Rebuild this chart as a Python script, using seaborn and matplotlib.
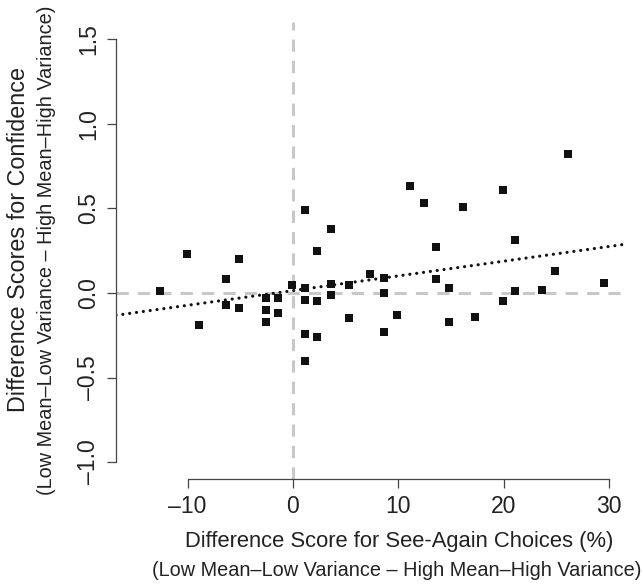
import numpy as np
import pandas as pd
import matplotlib
matplotlib.use("Agg")
import matplotlib.pyplot as plt
import seaborn as sns

# Values
see_again = [-12.6, -10.1, -8.9, -6.4, -6.4, -5.1, -5.1, -2.6, -2.6, -2.6,
             -1.4, -1.4, -0.1, 1.1, 1.1, 1.1, 1.1, 1.1, 2.3, 2.3, 2.3,
             3.6, 3.6, 3.6, 5.3, 5.3, 7.3, 8.6, 8.6, 8.6, 9.9, 11.1, 12.4,
             13.6, 13.6, 14.8, 14.8, 16.1, 17.3, 19.9, 19.9, 21.1, 21.1,
             23.6, 24.9, 26.1, 29.5]
confidence = [0.01, 0.23, -0.19, 0.08, -0.07, 0.20, -0.09, -0.03, -0.10, -0.17,
              -0.03, -0.12, 0.045, 0.49, 0.03, -0.04, -0.24, -0.40, 0.25,
              -0.05, -0.26, 0.38, 0.05, -0.01, 0.045, -0.15, 0.11, 0.09, 0.0,
              -0.23, -0.13, 0.63, 0.53, 0.27, 0.085, 0.03, -0.17, 0.51, -0.14,
              0.61, -0.05, 0.315, 0.01, 0.02, 0.13, 0.82, 0.06]

df = pd.DataFrame({"see_again": see_again, "confidence": confidence})

x_ticks = [-10, 0, 10, 20, 30]
y_ticks = [-1.0, -0.5, 0.0, 0.5, 1.0, 1.5]

sns.set_style("white")
plt.rcParams["font.family"] = ["Liberation Sans", "DejaVu Sans"]

fig = plt.figure(figsize=(6.43, 5.86), dpi=100)
ax = fig.add_axes([0.1804, 0.1826, 0.7963, 0.7793])
ax.set_xlim(-16.8, 31.8)
ax.set_ylim(-1.1, 1.6)

# reference lines at zero
ax.axhline(0, color="#c8c8c8", lw=2.2, dashes=(4, 3), zorder=1)
ax.axvline(0, color="#c8c8c8", lw=2.2, dashes=(4, 3), zorder=1)

# scatter plus least-squares line over the whole x range
sns.regplot(data=df, x="see_again", y="confidence", ax=ax, ci=None, truncate=False,
            marker="s",
            scatter_kws={"s": 34, "color": "#111111", "alpha": 1, "linewidths": 0, "zorder": 3},
            line_kws={"color": "#111111", "lw": 2.3, "linestyle": (0, (0.01, 2.15)),
                      "solid_capstyle": "round", "dash_capstyle": "round", "zorder": 2})

ax.set_xlim(-16.8, 31.8)
ax.set_ylim(-1.1, 1.6)
ax.set_xticks(x_ticks)
ax.set_yticks(y_ticks)
ax.set_xticklabels([f"{v:g}".replace("-", "\u2013") for v in x_ticks], fontsize=16.5)
ax.set_yticklabels([f"{v:.1f}".replace("-", "\u2013") for v in y_ticks], fontsize=16.5,
                   rotation=90, va="center")
ax.tick_params(axis="both", direction="out", length=6.3, width=0.9, color="#444444",
               labelcolor="#222222", pad=5, left=True, bottom=True)
ax.set_xlabel("")
ax.set_ylabel("")

for side in ["top", "right"]:
    ax.spines[side].set_visible(False)
ax.spines["left"].set_bounds(-1.0, 1.5)
ax.spines["bottom"].set_bounds(-10, 30)
for side in ["left", "bottom"]:
    ax.spines[side].set_color("#444444")
    ax.spines[side].set_linewidth(0.9)

# axis titles, two lines each
fig.text(399 / 643, 1 - 542 / 586, "Difference Score for See-Again Choices (%)",
         ha="center", va="center", fontsize=15.8, color="#222222")
fig.text(397 / 643, 1 - 570 / 586, "(Low Mean\u2013Low Variance \u2013 High Mean\u2013High Variance)",
         ha="center", va="center", fontsize=14.3, color="#222222")
fig.text(19 / 643, 1 - 240 / 586, "Difference Scores for Confidence",
         ha="center", va="center", rotation=90, fontsize=16.8, color="#222222")
fig.text(47 / 643, 1 - 250 / 586, "(Low Mean\u2013Low Variance \u2013 High Mean\u2013High Variance)",
         ha="center", va="center", rotation=90, fontsize=14.3, color="#222222")

fig.savefig("out.png", dpi=100)
